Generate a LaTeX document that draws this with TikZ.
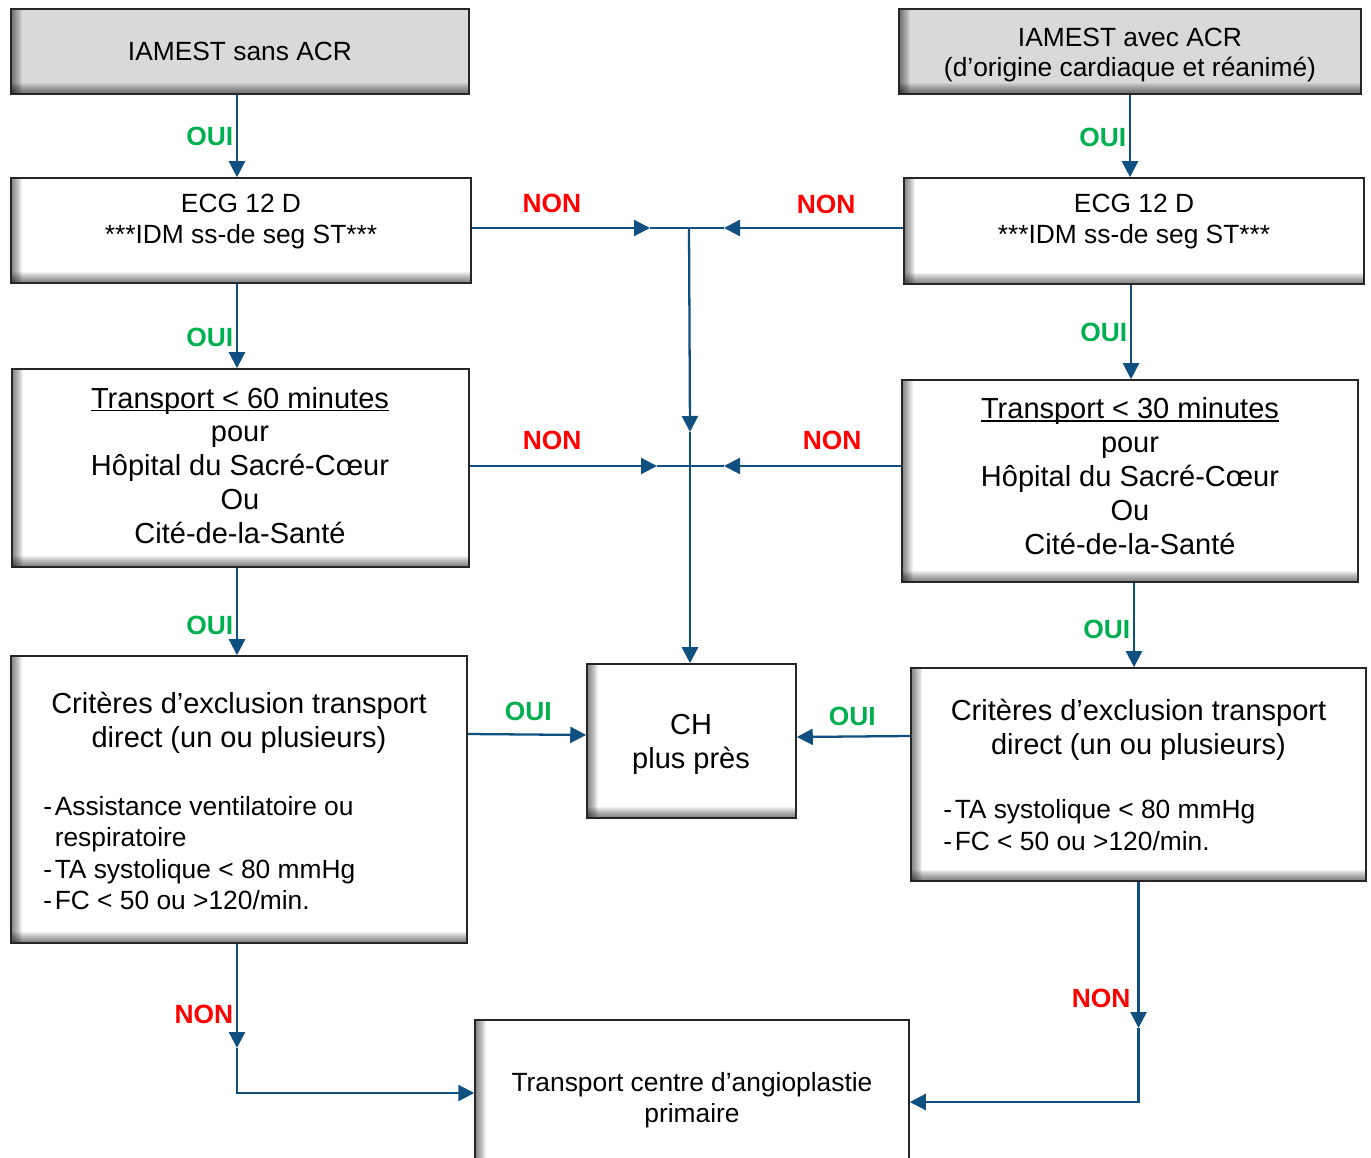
\documentclass[tikz,border=0pt]{standalone}
\usepackage{fontspec}
\setmainfont{Liberation Sans}
\usetikzlibrary{arrows.meta}

\definecolor{flowblue}{RGB}{16,80,128}
\definecolor{ouigreen}{RGB}{0,176,80}
\definecolor{nonred}{RGB}{255,0,0}
\definecolor{boxgray}{RGB}{217,217,217}

\newcommand{\undl}[1]{\setbox0\hbox{#1}\rlap{\rule[-1.9pt]{\wd0}{1pt}}\box0}

\tikzset{
  shadowbox/.style={draw=black!85, line width=0.9pt, fill=#1, inner sep=0pt,
    path picture={
      \foreach \k in {1,...,11}{
        \fill[black,opacity=.055] (path picture bounding box.south west)
          rectangle ([xshift=\k*0.02cm]path picture bounding box.north west);
        \fill[black,opacity=.055] (path picture bounding box.south west)
          rectangle ([yshift=\k*0.02cm]path picture bounding box.south east);
      }
    }},
  txt/.style={align=center, inner sep=0pt, font=\fontsize{15}{17.6}\selectfont},
  bigtxt/.style={align=center, inner sep=0pt, font=\fontsize{16.5}{19.3}\selectfont},
  listtxt/.style={align=left, inner sep=0pt, anchor=west, font=\fontsize{15}{17.9}\selectfont},
  oui/.style={inner sep=0pt, text=ouigreen, font=\fontsize{15}{15}\selectfont\bfseries},
  non/.style={inner sep=0pt, text=nonred, font=\fontsize{15}{15}\selectfont\bfseries}
}

\begin{document}
\begin{tikzpicture}[x=0.02cm,y=-0.02cm,>={Triangle[length=0.32cm,width=0.32cm]},
  flow/.style={draw=flowblue,line width=1.3pt}]
  \useasboundingbox (0,0) rectangle (1371,1158);

  \node[shadowbox=boxgray,minimum width=9.16cm,minimum height=1.7cm] (iamL) at (240,51.5) {};
  \node[shadowbox=boxgray,minimum width=9.24cm,minimum height=1.7cm] (iamR) at (1130,51.5) {};
  \node[shadowbox=white,minimum width=9.2cm,minimum height=2.1cm] (ecgL) at (241,230.5) {};
  \node[shadowbox=white,minimum width=9.2cm,minimum height=2.12cm] (ecgR) at (1134,231) {};
  \node[shadowbox=white,minimum width=9.14cm,minimum height=3.96cm] (trL) at (240.5,468) {};
  \node[shadowbox=white,minimum width=9.12cm,minimum height=4.04cm] (trR) at (1130,481) {};
  \node[shadowbox=white,minimum width=9.12cm,minimum height=5.74cm] (crL) at (239,799.5) {};
  \node[shadowbox=white,minimum width=9.1cm,minimum height=4.26cm] (crR) at (1138.5,774.5) {};
  \node[shadowbox=white,minimum width=4.18cm,minimum height=3.08cm] (ch) at (691.5,741) {};
  \node[shadowbox=white,minimum width=8.68cm,minimum height=3.1cm] (angio) at (692,1097.5) {};

  \node[txt] (iamLt) at (240,51) {IAMEST sans ACR};
  \node[txt] (iamRt) at (1130,55) {IAMEST avec ACR\\(d’origine cardiaque et réanimé)};
  \node[txt] (ecgLt) at (241,221.5) {ECG 12 D\\***IDM ss-de seg ST***};
  \node[txt] (ecgRt) at (1134,221.5) {ECG 12 D\\***IDM ss-de seg ST***};
  \node[bigtxt] (trLt) at (240,465.5) {\undl{Transport < 60 minutes}\\pour\\Hôpital du Sacré-Cœur\\Ou\\Cité-de-la-Santé};
  \node[bigtxt] (trRt) at (1130,476) {\undl{Transport < 30 minutes}\\pour\\Hôpital du Sacré-Cœur\\Ou\\Cité-de-la-Santé};
  \node[bigtxt] (crLh) at (239,723) {Critères d’exclusion transport\\direct (un ou plusieurs)};
  \node[listtxt] (crLl) at (43,853) {-\hspace{1.5pt}Assistance ventilatoire ou\\\hphantom{-\hspace{1.5pt}}respiratoire\\-\hspace{1.5pt}TA systolique < 80 mmHg\\-\hspace{1.5pt}FC < 50 ou >120/min.};
  \node[bigtxt] (crRh) at (1138.5,730) {Critères d’exclusion transport\\direct (un ou plusieurs)};
  \node[listtxt] (crRl) at (943,825) {-\hspace{1.5pt}TA systolique < 80 mmHg\\-\hspace{1.5pt}FC < 50 ou >120/min.};
  \node[bigtxt] (cht) at (691,744.5) {CH\\plus près};
  \node[txt] (angt) at (692,1100) {Transport centre d’angioplastie\\primaire};

  \coordinate (tipL1) at (650,228);
  \coordinate (tipR1) at (724,228);
  \coordinate (jTop) at (689,228);
  \coordinate (tipC) at (690,432);
  \coordinate (tipL2) at (657,466);
  \coordinate (tipR2) at (724,466);
  \coordinate (tipL3) at ([xshift=-0.04cm]crL.south |- 0,1048);
  \coordinate (tipR3) at (crR.south |- 0,1028);

  \path ([xshift=-0.06cm]iamL.south) edge[flow,->] node[oui,pos=.5,left=1.5pt] {OUI} ([xshift=-0.06cm]iamL.south |- ecgL.north)
        ([xshift=-0.08cm]ecgL.south) edge[flow,->] node[oui,pos=.63,left=1.5pt] {OUI} ([xshift=-0.08cm]ecgL.south |- trL.north)
        ([xshift=-0.07cm]trL.south) edge[flow,->] node[oui,pos=.66,left=1.5pt] {OUI} ([xshift=-0.07cm]trL.south |- crL.north)
        (iamR.south) edge[flow,->] node[oui,pos=.52,left=1.5pt] {OUI} (iamR.south |- ecgR.north)
        ([xshift=-0.06cm]ecgR.south) edge[flow,->] node[oui,pos=.5,left=1.5pt] {OUI} ([xshift=-0.06cm]ecgR.south |- trR.north)
        ([xshift=0.08cm]trR.south) edge[flow,->] node[oui,pos=.55,left=1.5pt] {OUI} ([xshift=0.08cm]trR.south |- crR.north);

  \draw[flow,->] (ecgL.east |- tipL1) -- node[non,pos=.45,above=8pt] {NON} (tipL1);
  \draw[flow,->] (ecgR.west |- tipR1) -- node[non,pos=.43,above=7.5pt] {NON} (tipR1);
  \draw[flow] (tipL1) -- (tipR1);
  \draw[flow,->] (jTop) -- (tipC);
  \draw[flow,->] (tipC) -- (tipC |- ch.north);

  \draw[flow,->] (trL.east |- tipL2) -- node[non,pos=.44,above=8.8pt] {NON} (tipL2);
  \draw[flow,->] (trR.west |- tipR2) -- node[non,pos=.39,above=8.8pt] {NON} (tipR2);
  \draw[flow] (tipL2) -- (tipR2);

  \draw[flow,->] (crL.east |- 0,734) -- node[oui,pos=.51,above=7pt] {OUI} (ch.west |- 0,735);
  \draw[flow,->] (crR.west |- 0,736) -- node[oui,pos=.51,above=5.4pt] {OUI} (ch.east |- 0,737);

  \draw[flow,->] ([xshift=-0.04cm]crL.south) -- node[non,pos=.68,left=1.5pt] {NON} (tipL3);
  \draw[flow,->] (tipL3) |- (angio.west |- 0,1093);
  \draw[flow,->] (crR.south) -- node[non,pos=.8,left=4pt] {NON} (tipR3);
  \draw[flow,->] (tipR3) |- (angio.east |- 0,1102);
\end{tikzpicture}
\end{document}
